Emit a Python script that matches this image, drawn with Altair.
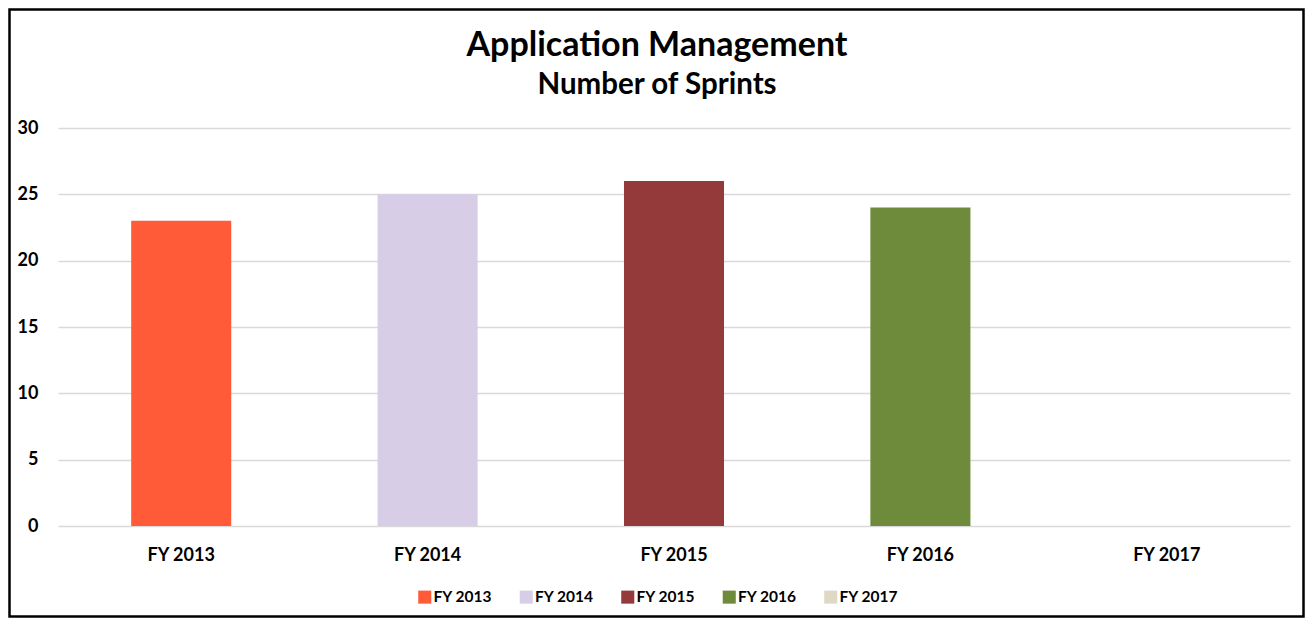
import altair as alt
import pandas as pd

years = ["FY 2013", "FY 2014", "FY 2015", "FY 2016", "FY 2017"]
sprints = [23, 25, 26, 24, 0]
colors = ["#FF5B38", "#D7CDE6", "#953A3B", "#6D8B3A", "#DDD9C4"]
title_text = "Application Management"
subtitle_text = "Number of Sprints"

df = pd.DataFrame({"Year": years, "Sprints": sprints})

PL, PT, W, H = 50, 120, 1232, 398
TOTW, TOTH = 1297, 610

bars = alt.Chart(df).mark_bar().encode(
    x=alt.X("Year:N", sort=years, title=None,
            scale=alt.Scale(paddingInner=0.594, paddingOuter=0.297),
            axis=alt.Axis(labelAngle=0, labelFont="Lato", labelFontWeight="bold",
                          labelFontSize=18, labelColor="#000000", labelPadding=20,
                          ticks=False, domain=False, grid=False)),
    y=alt.Y("Sprints:Q", title=None,
            scale=alt.Scale(domain=[0, 30], nice=False),
            axis=alt.Axis(values=[0, 5, 10, 15, 20, 25, 30], labelFont="Lato",
                          labelFontWeight="bold", labelFontSize=18, labelColor="#000000",
                          labelPadding=20, ticks=False, domain=False,
                          gridColor="#D9D9D9", gridWidth=1.5)),
    color=alt.Color("Year:N", sort=years,
                    scale=alt.Scale(domain=years, range=colors),
                    legend=alt.Legend(title=None, orient="none", direction="horizontal",
                                      legendX=359, legendY=461,
                                      symbolType="square", symbolSize=170,
                                      symbolStrokeWidth=0,
                                      labelFont="Lato", labelFontWeight="bold",
                                      labelFontSize=15.5, labelColor="#000000",
                                      labelOffset=1, columnPadding=25.5)),
)

titles = alt.Chart(pd.DataFrame({"t": [title_text]})).mark_text(
    font="Lato", fontSize=34, fontWeight="bold", color="#000000",
    align="center", baseline="alphabetic"
).encode(text="t:N", x=alt.value(599), y=alt.value(-72))

subtitles = alt.Chart(pd.DataFrame({"t": [subtitle_text]})).mark_text(
    font="Lato", fontSize=29.5, fontWeight="bold", color="#000000",
    align="center", baseline="alphabetic"
).encode(text="t:N", x=alt.value(599), y=alt.value(-34))

border = alt.Chart(pd.DataFrame({"k": [1]})).mark_rect(
    fill=None, stroke="#000000", strokeWidth=2.5, clip=False
).encode(
    x=alt.value(-PL + 1.5), x2=alt.value(TOTW - PL - 1.5),
    y=alt.value(-PT + 1.5), y2=alt.value(TOTH - PT - 1.5),
)

chart = alt.layer(bars, titles, subtitles, border).properties(
    width=W, height=H,
    background="#FFFFFF",
    autosize=alt.AutoSizeParams(type="none"),
    padding={"left": PL, "top": PT, "right": TOTW - PL - W, "bottom": TOTH - PT - H},
).configure_view(strokeOpacity=0, strokeWidth=0)

chart.save("out.html", embed_options={"renderer": "svg", "actions": False})
